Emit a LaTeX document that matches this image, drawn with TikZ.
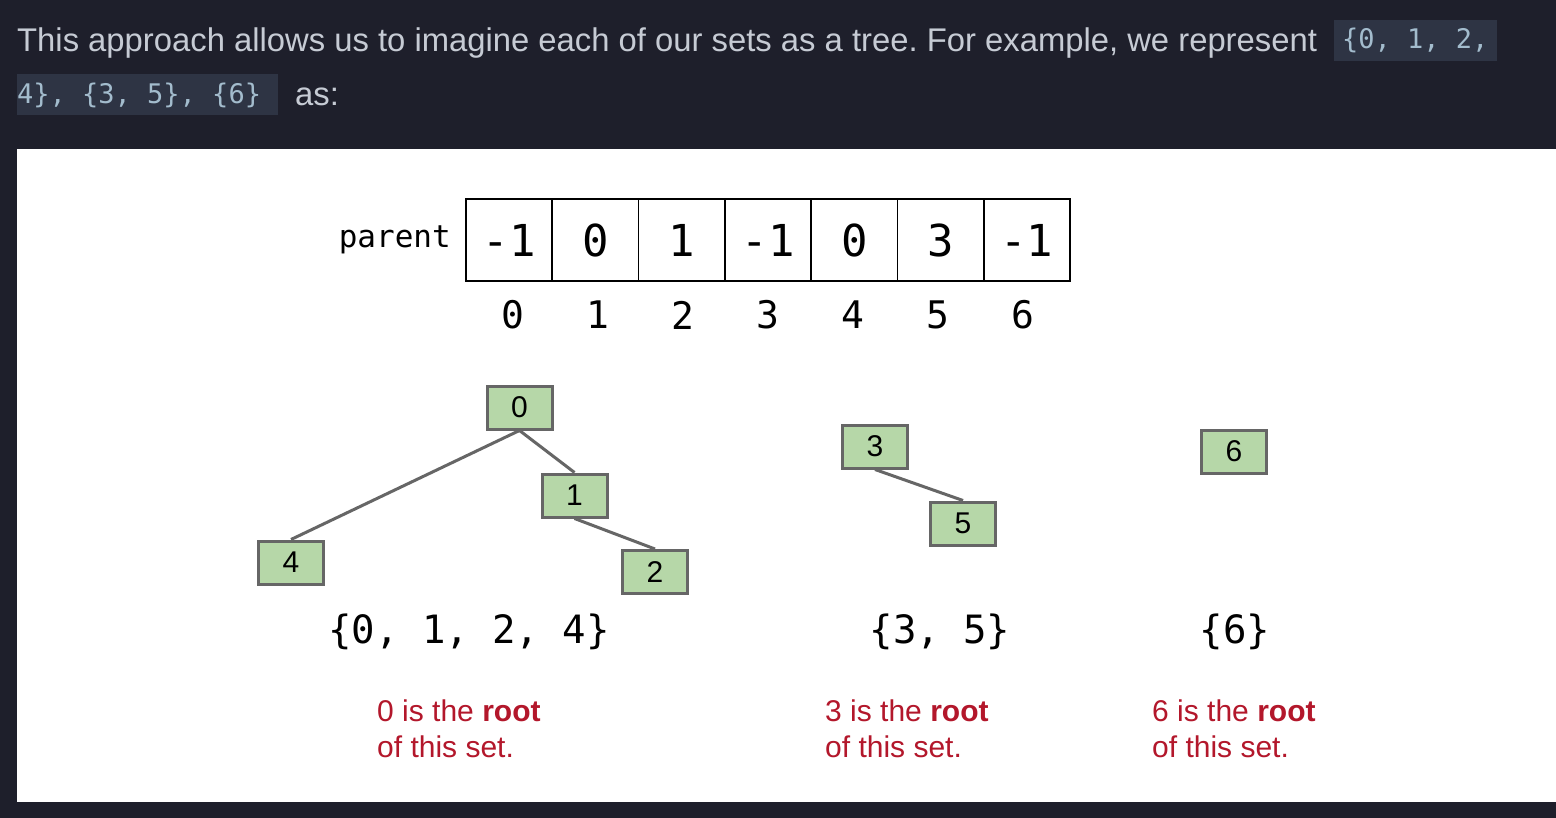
\documentclass[tikz,border=0pt]{standalone}
\usepackage{fontspec}
\setmainfont{Liberation Sans}
\setmonofont{DejaVu Sans Mono}
\usetikzlibrary{positioning}
\definecolor{pagebg}{HTML}{1E1F2B}
\definecolor{bodytext}{HTML}{C6CBD4}
\definecolor{codebg}{HTML}{2E3444}
\definecolor{codetext}{HTML}{A3BCCD}
\definecolor{treefill}{HTML}{B6D7A8}
\definecolor{treeline}{HTML}{666666}
\definecolor{rootred}{HTML}{B3172B}
\frenchspacing

\begin{document}
\begin{tikzpicture}[x=1pt, y=-1pt,
  intro/.style={inner sep=0pt, anchor=base west, text=bodytext,
                font=\fontsize{32.8}{37}\selectfont},
  codebox/.style={fill=codebg, inner xsep=8pt, inner ysep=0pt, minimum height=41pt,
                  text=codetext, font=\fontsize{27}{27}\selectfont\ttfamily},
  cell/.style={draw, line width=1.6pt, minimum width=86.3pt, minimum height=82pt,
               inner sep=0pt, font=\fontsize{44}{44}\selectfont\ttfamily},
  idx/.style={inner sep=0pt, font=\fontsize{38}{38}\selectfont\ttfamily},
  setnode/.style={draw=treeline, fill=treefill, line width=3pt, minimum width=65pt,
                  minimum height=43pt, inner sep=0pt, font=\fontsize{30}{30}\selectfont},
  tree/.style={draw=treeline, line width=3pt},
  setlbl/.style={inner sep=0pt, anchor=base, font=\fontsize{39}{39}\selectfont\ttfamily},
  note/.style={inner sep=0pt, anchor=north west, align=left, text=rootred,
               font=\fontsize{30}{36}\selectfont}
]
% Page and panel
\fill[pagebg] (0,0) rectangle (1556,818);
\useasboundingbox (0,0) rectangle (1556,818);
\fill[white] (17,149) rectangle (1556,802);

% Text above the picture
\node[intro] (line1) at (17,52) {This approach allows us to imagine each of our sets as a tree. For example, we represent};
\node[codebox, anchor=west] (code1) at (1334,40.5) {\{0, 1, 2,};
\node[codebox, anchor=west, inner xsep=0pt] (code2) at (17,95) {4\}, \{3, 5\}, \{6\}\hspace*{17pt}};
\node[intro] (line2) at (295,106) {as:};

% Parent array
\node[inner sep=0pt, anchor=base east, font=\fontsize{31}{31}\selectfont\ttfamily] (plabel) at (451,248) {parent};
\foreach \i/\v in {0/-1, 1/0, 2/1, 3/-1, 4/0, 5/3, 6/-1}
  \node[cell] (c\i) at (466+86.29*\i+43.14,240) {\v};
\foreach \i in {0,...,6}
  \node[idx] (i\i) at (513+85*\i,315) {\i};

% Trees
\node[setnode] (n0) at (519.5,407.5) {0};
\node[setnode] (n1) at (574.5,495.5) {1};
\node[setnode] (n4) at (291,562.5) {4};
\node[setnode] (n2) at (655,572) {2};
\node[setnode] (n3) at (875,446.5) {3};
\node[setnode] (n5) at (963,523.5) {5};
\node[setnode] (n6) at (1234,451.5) {6};

\draw[tree] (n0.south) -- (n4.north);
\draw[tree] (n0.south) -- (n1.north);
\draw[tree] (n1.south) -- (n2.north);
\draw[tree] (n3.south) -- (n5.north);

% Sets
\node[setlbl] (s0) at (469,643) {\{0, 1, 2, 4\}};
\node[setlbl] (s3) at (940,643) {\{3, 5\}};
\node[setlbl] (s6) at (1235,643) {\{6\}};

% Roots
\node[note] (r0) at (377,700) {0 is the \textbf{root}\\of this set.};
\node[note] (r3) at (825,700) {3 is the \textbf{root}\\of this set.};
\node[note] (r6) at (1152,700) {6 is the \textbf{root}\\of this set.};
\end{tikzpicture}
\end{document}
